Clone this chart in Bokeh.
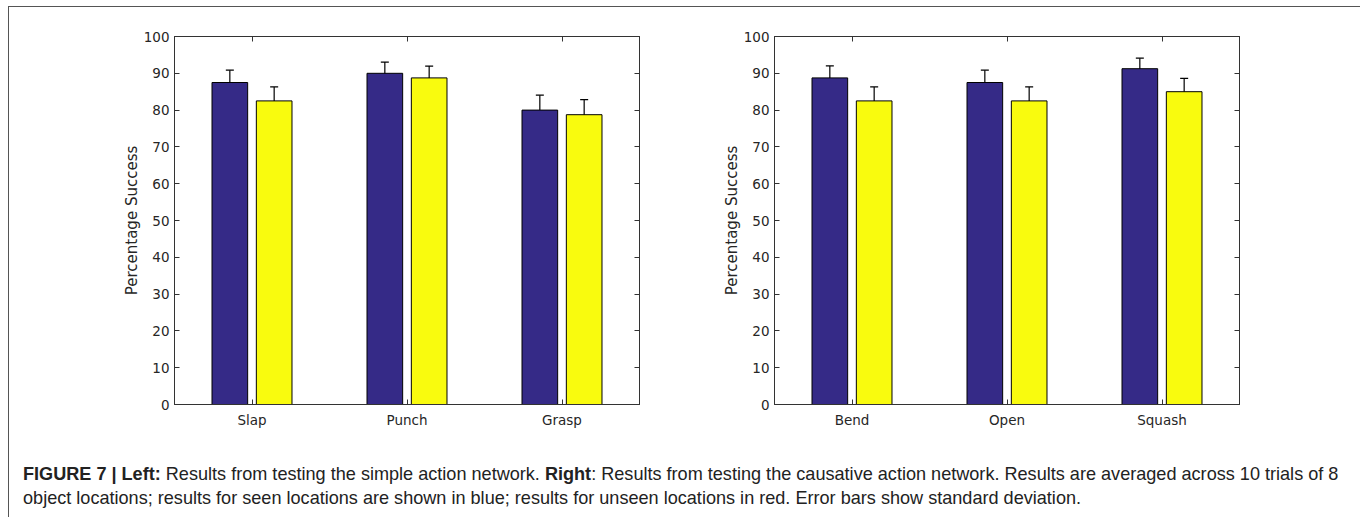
from bokeh.plotting import figure
from bokeh.models import (ColumnDataSource, FactorRange, Range1d, LinearAxis, CategoricalAxis,
                          Whisker, TeeHead, FixedTicker, Div, Title)
from bokeh.transform import dodge
from bokeh.layouts import row, column
from bokeh.embed import file_html
from bokeh.resources import INLINE

# ---------------- data ----------------
left_cats = ["Slap", "Punch", "Grasp"]
left_seen = [87.5, 90.0, 80.0]
left_seen_sd = [3.35, 3.05, 4.05]
left_unseen = [82.5, 88.75, 78.75]
left_unseen_sd = [3.8, 3.2, 4.1]

right_cats = ["Bend", "Open", "Squash"]
right_seen = [88.75, 87.5, 91.25]
right_seen_sd = [3.25, 3.35, 2.85]
right_unseen = [82.5, 82.5, 85.0]
right_unseen_sd = [3.8, 3.8, 3.6]

y_ticks = [0, 10, 20, 30, 40, 50, 60, 70, 80, 90, 100]
y_label = "Percentage Success"

SEEN = "#352A87"
UNSEEN = "#F9FB0E"
AX = "#333333"
TXT = "#262626"
FONT = "DejaVu Sans"


def make_panel(cats, seen, seen_sd, unseen, unseen_sd, width, border_left, border_right):
    src = ColumnDataSource(dict(
        cat=cats, seen=seen, unseen=unseen,
        seen_up=[v + s for v, s in zip(seen, seen_sd)],
        seen_lo=[v - s for v, s in zip(seen, seen_sd)],
        unseen_up=[v + s for v, s in zip(unseen, unseen_sd)],
        unseen_lo=[v - s for v, s in zip(unseen, unseen_sd)],
    ))
    p = figure(x_range=FactorRange(*cats, range_padding=0), y_range=Range1d(0, 100),
               width=width, height=433, frame_width=465, frame_height=368,
               min_border_left=border_left, min_border_right=border_right,
               min_border_top=29, min_border_bottom=36,
               output_backend="svg", toolbar_location=None, x_axis_location=None,
               y_axis_location=None)
    p.xgrid.visible = False
    p.ygrid.visible = False
    p.outline_line_color = AX
    p.outline_line_width = 1
    p.background_fill_color = "white"
    p.border_fill_color = "white"

    off = 0.143
    bw = 0.23
    p.vbar(x=dodge("cat", -off, range=p.x_range), top="seen", width=bw, source=src,
           fill_color=SEEN, line_color="black", line_width=1)
    p.vbar(x=dodge("cat", off, range=p.x_range), top="unseen", width=bw, source=src,
           fill_color=UNSEEN, line_color="black", line_width=1)

    for key, o in (("seen", -off), ("unseen", off)):
        w = Whisker(base=dodge("cat", o, range=p.x_range), upper=key + "_up", lower=key + "_lo",
                    source=src, line_color="black", line_width=1.2,
                    upper_head=TeeHead(size=8, line_color="black", line_width=1.2),
                    lower_head=TeeHead(size=8, line_color="black", line_width=1.2))
        p.add_layout(w)

    ya = LinearAxis(ticker=FixedTicker(ticks=y_ticks))
    yr = LinearAxis(ticker=FixedTicker(ticks=y_ticks))
    xb = CategoricalAxis()
    xt = CategoricalAxis()
    for ax in (ya, yr, xb, xt):
        ax.major_tick_in = 5
        ax.major_tick_out = 0
        ax.minor_tick_in = 0
        ax.minor_tick_out = 0
        ax.axis_line_color = AX
        ax.major_tick_line_color = AX
        ax.major_label_text_font = FONT
        ax.major_label_text_font_size = "13.5px"
        ax.major_label_text_color = TXT
    ya.major_label_standoff = 5
    xb.major_label_standoff = 7
    yr.major_label_text_color = None
    xt.major_label_text_color = None
    p.add_layout(ya, "left")
    p.add_layout(yr, "right")
    p.add_layout(xb, "below")
    p.add_layout(xt, "above")

    # y-axis title, slightly above centre as in the original
    t = Title(text=y_label, align="center", offset=8, standoff=0,
              text_font=FONT, text_font_size="15px", text_font_style="normal",
              text_color=TXT)
    p.add_layout(t, "left")
    return p


f1 = make_panel(left_cats, left_seen, left_seen_sd, left_unseen, left_unseen_sd,
                width=700, border_left=165, border_right=70)
f2 = make_panel(right_cats, right_seen, right_seen_sd, right_unseen, right_unseen_sd,
                width=646, border_left=65, border_right=116)

caption = ('<div style="padding:17px 0 0 9px; font-family:\'Liberation Sans\', Arial, sans-serif; '
           'font-size:18.1px; line-height:24px; color:#222; white-space:nowrap;">'
           '<b>FIGURE 7 | Left:</b> Results from testing the simple action network. '
           '<b>Right</b>: Results from testing the causative action network. '
           'Results are averaged across 10 trials of 8<br>'
           'object locations; results for seen locations are shown in blue; results for unseen '
           'locations in red. Error bars show standard deviation.</div>')
cap = Div(text=caption, width=1346, height=69)

layout = column(row(f1, f2), cap,
                styles={"margin-left": "8px", "margin-top": "6px",
                        "border-top": "1px solid #555", "border-left": "1px solid #555",
                        "border-right": "1px solid #555", "background": "white"})

open("out.html", "w").write(file_html(layout, INLINE))
